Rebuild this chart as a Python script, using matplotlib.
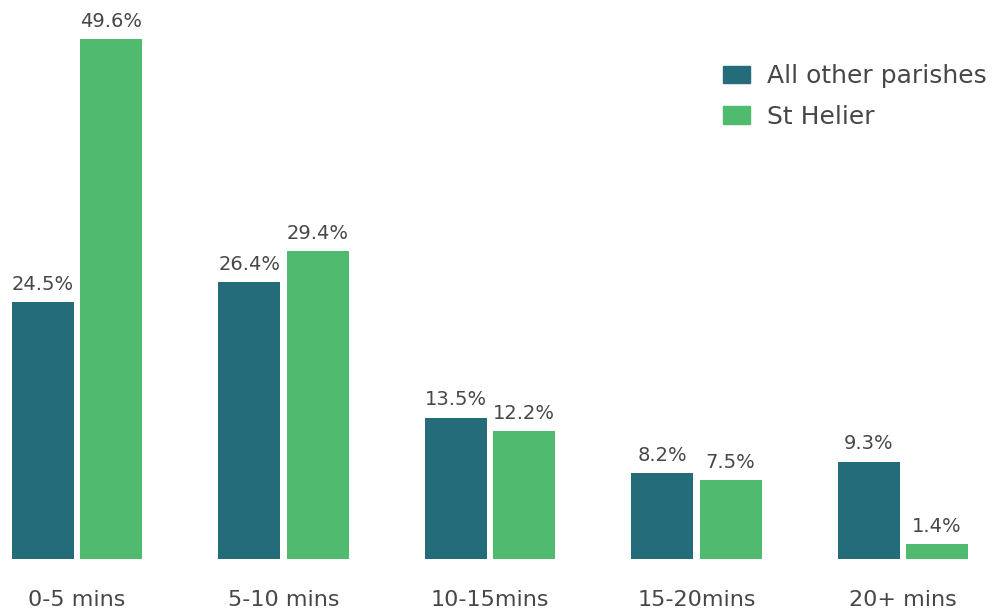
import numpy as np
import matplotlib.pyplot as plt
from matplotlib.patches import Patch

# Travel time categories and shares (%)
categories = ["0-5 mins", "5-10 mins", "10-15mins", "15-20mins", "20+ mins"]
other_parishes = [24.5, 26.4, 13.5, 8.2, 9.3]
st_helier = [49.6, 29.4, 12.2, 7.5, 1.4]
series_names = ["All other parishes", "St Helier"]

dark = "#256c7a"
green = "#50bb6f"
text_col = "#474747"

plt.rcParams['font.family'] = ['DejaVu Sans']

fig = plt.figure(figsize=(9.92, 6.12), dpi=100)
ax = fig.add_axes([0, 53 / 612, 1, 559 / 612])

x = np.arange(len(categories))
w = 0.30
off = 0.165
b1 = ax.bar(x - off, other_parishes, w, color=dark)
b2 = ax.bar(x + off, st_helier, w, color=green)

for bars, vals in ((b1, other_parishes), (b2, st_helier)):
    for b, v in zip(bars, vals):
        ax.text(b.get_x() + b.get_width() / 2, v + 0.8, f"{v}%",
                ha="center", va="bottom", fontsize=14, color=text_col)

ax.set_xlim(-77 / 206.5, (992 - 77) / 206.5)
ax.set_ylim(0, 559 / 10.48)
ax.set_xticks(x)
ax.set_xticklabels(categories, fontsize=16, color=text_col)
ax.tick_params(axis="x", length=0, pad=22)
ax.set_yticks([])
for s in ax.spines.values():
    s.set_visible(False)

handles = [Patch(color=dark), Patch(color=green)]
ax.legend(handles, series_names, loc="upper right", bbox_to_anchor=(1.017, 0.925),
          frameon=False, fontsize=18, labelcolor=text_col,
          handlelength=1.1, handleheight=0.7, handletextpad=0.65, labelspacing=0.65)

fig.savefig("out.png", dpi=100)
